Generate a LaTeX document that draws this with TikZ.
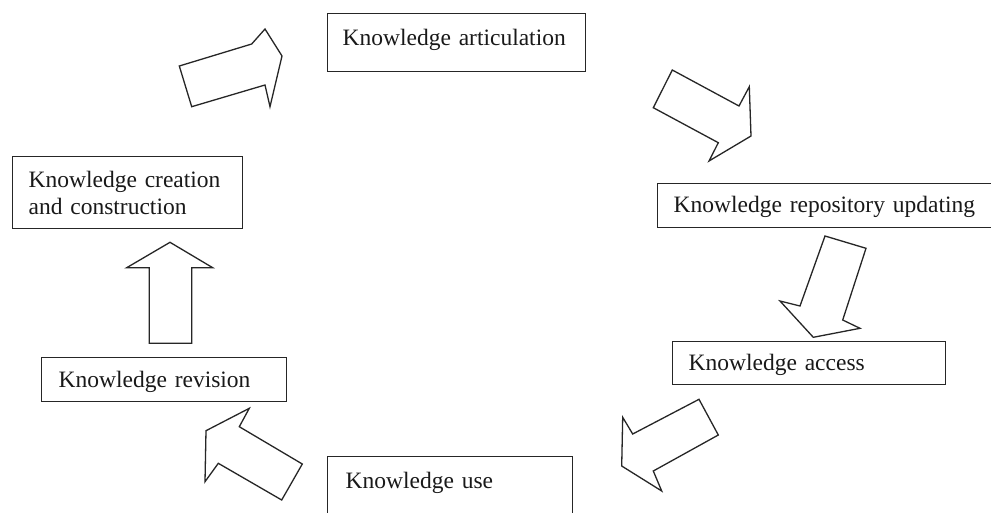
\documentclass[tikz,border=0pt]{standalone}
\usepackage{fontspec}
\setmainfont{Liberation Serif}
\begin{document}
\begin{tikzpicture}[x=1pt,y=-1pt,
  kbox/.style={draw=black!85, line width=1.2pt, anchor=north west, inner xsep=16pt, inner ysep=0pt,
    align=left, text=black!90, font=\fontsize{23.5}{27}\selectfont},
  barrow/.style={draw=black!85, line width=1.3pt, line join=miter, fill=white}]
\useasboundingbox (0,0) rectangle (991,512);
% boxes
\node[kbox, inner xsep=15pt, text width=228pt, text height=32pt, text depth=26pt] (art) at (327,13) {Knowledge articulation};
\node[kbox, text width=198pt, text height=31pt, text depth=41pt] (cre) at (12,156) {Knowledge creation\\and construction};
\node[kbox, text width=311pt, text height=29pt, text depth=15pt] (rep) at (657,183) {Knowledge repository updating};
\node[kbox, text width=241pt, text height=29pt, text depth=14pt] (acc) at (672,341) {Knowledge access};
\node[kbox, inner xsep=17pt, text width=211pt, text height=30pt, text depth=14pt] (rev) at (41,357) {Knowledge revision};
\node[kbox, inner xsep=18pt, text width=209pt, text height=32pt, text depth=40pt] (use) at (327,456) {Knowledge use};
% block arrows
\draw[barrow] (179.3,66) -- (251.7,44) -- (265,29) -- (282,56) -- (270,106.7) -- (265,85) -- (191.7,106.7) -- cycle;
\draw[barrow] (672.3,70) -- (739,106) -- (749.3,86.7) -- (751,136) -- (709,161) -- (718.3,142.7) -- (653.3,107.7) -- cycle;
\draw[barrow] (825,236) -- (866,248.3) -- (842.7,320) -- (860,328.3) -- (813.3,337.3) -- (780,301) -- (800,306) -- cycle;
\draw[barrow] (699,399.3) -- (718.3,435) -- (653.3,471) -- (661.7,491) -- (621.7,466) -- (622.7,417.3) -- (632.7,434) -- cycle;
\draw[barrow] (281.7,500) -- (302.3,464) -- (239.3,426.7) -- (249.3,408.3) -- (206,430.7) -- (205,481.7) -- (218.3,463.3) -- cycle;
\draw[barrow] (149.3,343.3) -- (191.7,343.3) -- (191.7,267.7) -- (212.7,267.7) -- (170,242.3) -- (126.7,267.7) -- (149.3,267.7) -- cycle;
\end{tikzpicture}
\end{document}
